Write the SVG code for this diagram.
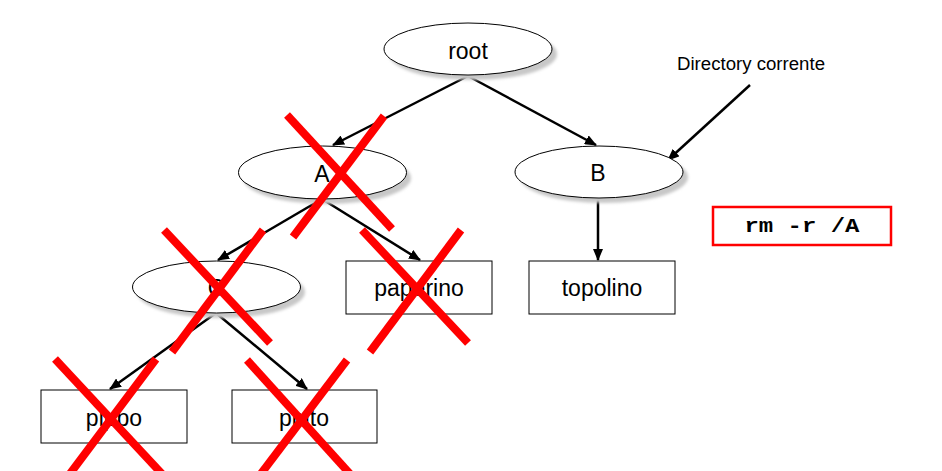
<svg xmlns="http://www.w3.org/2000/svg" width="942" height="471" viewBox="0 0 942 471">
<style>
.node{fill:#fff;stroke:#000;stroke-width:1}
.shadow{fill:#c8c8c8;filter:url(#blur)}
.edge{stroke:#000;stroke-width:2.5;fill:none;marker-end:url(#ah)}
.lbl{font-family:"Liberation Sans",Arial,sans-serif;font-size:23px;fill:#000;text-anchor:middle}
.x{stroke:#ff0000;stroke-width:8;stroke-linecap:butt}
</style>
<defs>
<filter id="blur" x="-20%" y="-40%" width="140%" height="180%"><feGaussianBlur stdDeviation="1.5"/></filter>
<marker id="ah" markerUnits="userSpaceOnUse" markerWidth="12" markerHeight="10" refX="11" refY="5" orient="auto"><path d="M0,0 L12,5 L0,10 Z" fill="#000"/></marker>
</defs>
<rect width="942" height="471" fill="#fff"/>
<g id="connectors">
<line class="edge" x1="468" y1="76" x2="333" y2="145"/>
<line class="edge" x1="468" y1="76" x2="596" y2="145"/>
<line class="edge" x1="322" y1="199" x2="218" y2="260"/>
<line class="edge" x1="322" y1="199" x2="420" y2="260"/>
<line class="edge" x1="598" y1="198" x2="598" y2="260"/>
<line class="edge" x1="216" y1="313" x2="110" y2="389"/>
<line class="edge" x1="216" y1="313" x2="307" y2="389"/>
<line class="edge" x1="750" y1="85" x2="668" y2="160"/>
</g>
<g id="root">
<ellipse class="shadow" cx="473" cy="54" rx="84" ry="26"/>
<ellipse class="node" cx="468" cy="49" rx="84" ry="26"/>
<text class="lbl" x="468" y="59">root</text>
</g>
<g id="A">
<ellipse class="shadow" cx="327" cy="178" rx="84" ry="26"/>
<ellipse class="node" cx="322.5" cy="172.5" rx="84" ry="26.5"/>
<text class="lbl" x="322" y="182">A</text>
</g>
<g id="B">
<ellipse class="shadow" cx="604" cy="177" rx="84" ry="26"/>
<ellipse class="node" cx="599" cy="172" rx="84" ry="26"/>
<text class="lbl" x="598" y="181">B</text>
</g>
<g id="C">
<ellipse class="shadow" cx="221" cy="292" rx="84" ry="26"/>
<ellipse class="node" cx="216.5" cy="287" rx="84" ry="26"/>
<text class="lbl" x="216" y="296">C</text>
</g>
<g id="paperino">
<rect class="node" x="346" y="261" width="146" height="53" stroke="#444"/>
<text class="lbl" x="419" y="296">paperino</text>
</g>
<g id="topolino">
<rect class="node" x="529" y="261" width="146" height="53" stroke="#444"/>
<text class="lbl" x="602" y="296">topolino</text>
</g>
<g id="pippo">
<rect class="node" x="41" y="390" width="146" height="53" stroke="#444"/>
<text class="lbl" x="114" y="426">pippo</text>
</g>
<g id="pluto">
<rect class="node" x="232" y="390" width="145" height="53" stroke="#444"/>
<text class="lbl" x="304" y="426">pluto</text>
</g>
<g id="directory-corrente">
<text x="677" y="70" font-family="'Liberation Sans',Arial,sans-serif" font-size="17.5" textLength="148" lengthAdjust="spacingAndGlyphs">Directory corrente</text>
</g>
<g id="command">
<rect x="713" y="207" width="178" height="38" fill="#fff" stroke="#ff0000" stroke-width="2.5"/>
<text x="802" y="232" font-family="'Liberation Mono','Courier New',monospace" font-weight="bold" font-size="21" text-anchor="middle" textLength="115" lengthAdjust="spacingAndGlyphs">rm -r /A</text>
</g>
<g id="crosses">
<line class="x" x1="287" y1="115" x2="392" y2="229"/>
<line class="x" x1="384" y1="116" x2="293" y2="237"/>
<line class="x" x1="164" y1="230" x2="270" y2="343"/>
<line class="x" x1="263" y1="230" x2="172" y2="352"/>
<line class="x" x1="362" y1="230" x2="468" y2="343"/>
<line class="x" x1="461" y1="230" x2="370" y2="352"/>
<line class="x" x1="55" y1="359" x2="163" y2="475"/>
<line class="x" x1="156" y1="359" x2="69" y2="475"/>
<line class="x" x1="247" y1="360" x2="351" y2="475"/>
<line class="x" x1="347" y1="360" x2="260" y2="475"/>
</g>
</svg>
